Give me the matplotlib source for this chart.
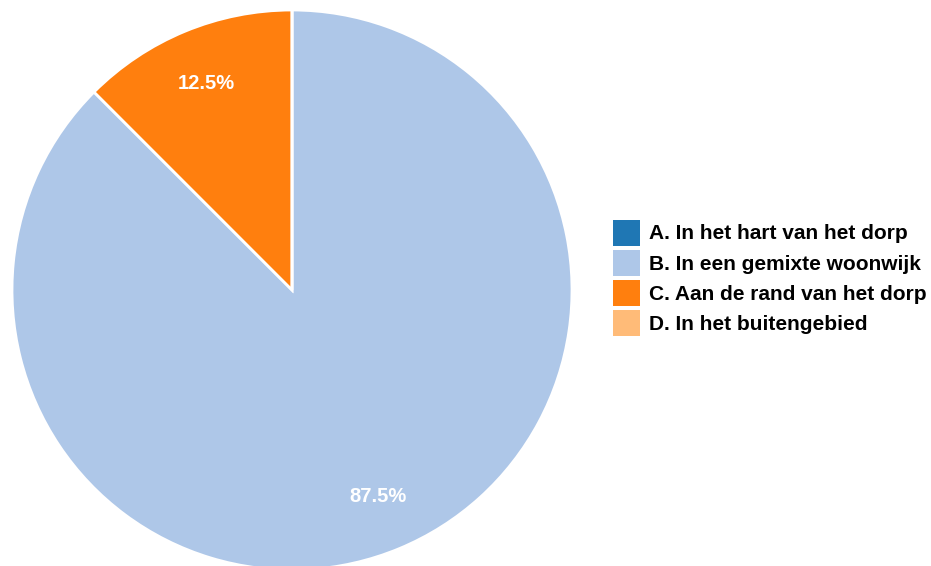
import matplotlib.pyplot as plt
from matplotlib.patches import Patch

# Antwoordcategorieën en aandelen (%)
labels = ['A. In het hart van het dorp', 'B. In een gemixte woonwijk',
          'C. Aan de rand van het dorp', 'D. In het buitengebied']
values = [0.0, 87.5, 12.5, 0.0]
colors = ['#1f77b4', '#aec7e8', '#ff7f0e', '#ffbb78']

plt.rcParams['font.family'] = ['Liberation Sans', 'DejaVu Sans']

W, H = 931, 566
fig = plt.figure(figsize=(W / 100, H / 100), dpi=100)

# taart: middelpunt (292, 290) px, straal 280 px
cx, cy, r = 292, 290, 280
ax = fig.add_axes([(cx - r) / W, (H - cy - r) / H, 2 * r / W, 2 * r / H])

wedges, _, autotexts = ax.pie(
    values, colors=colors, startangle=90, counterclock=False,
    autopct=lambda p: f'{p:.1f}%' if p > 0 else '', pctdistance=0.8,
    wedgeprops=dict(edgecolor='white', linewidth=2),
    textprops=dict(color='white', fontsize=14.5, fontweight='bold'))
ax.set_xlim(-1, 1)
ax.set_ylim(-1, 1)
ax.set_aspect('equal')

handles = [Patch(facecolor=c, edgecolor='none') for c in colors]
fig.legend(handles, labels, loc='center left', bbox_to_anchor=(613 / W, 1 - 278 / H),
           frameon=False, prop=dict(size=15, weight='bold'),
           handlelength=1.3, handleheight=1.55, handletextpad=0.45,
           labelspacing=0.2, borderpad=0, borderaxespad=0)

fig.savefig('out.png', dpi=100)
